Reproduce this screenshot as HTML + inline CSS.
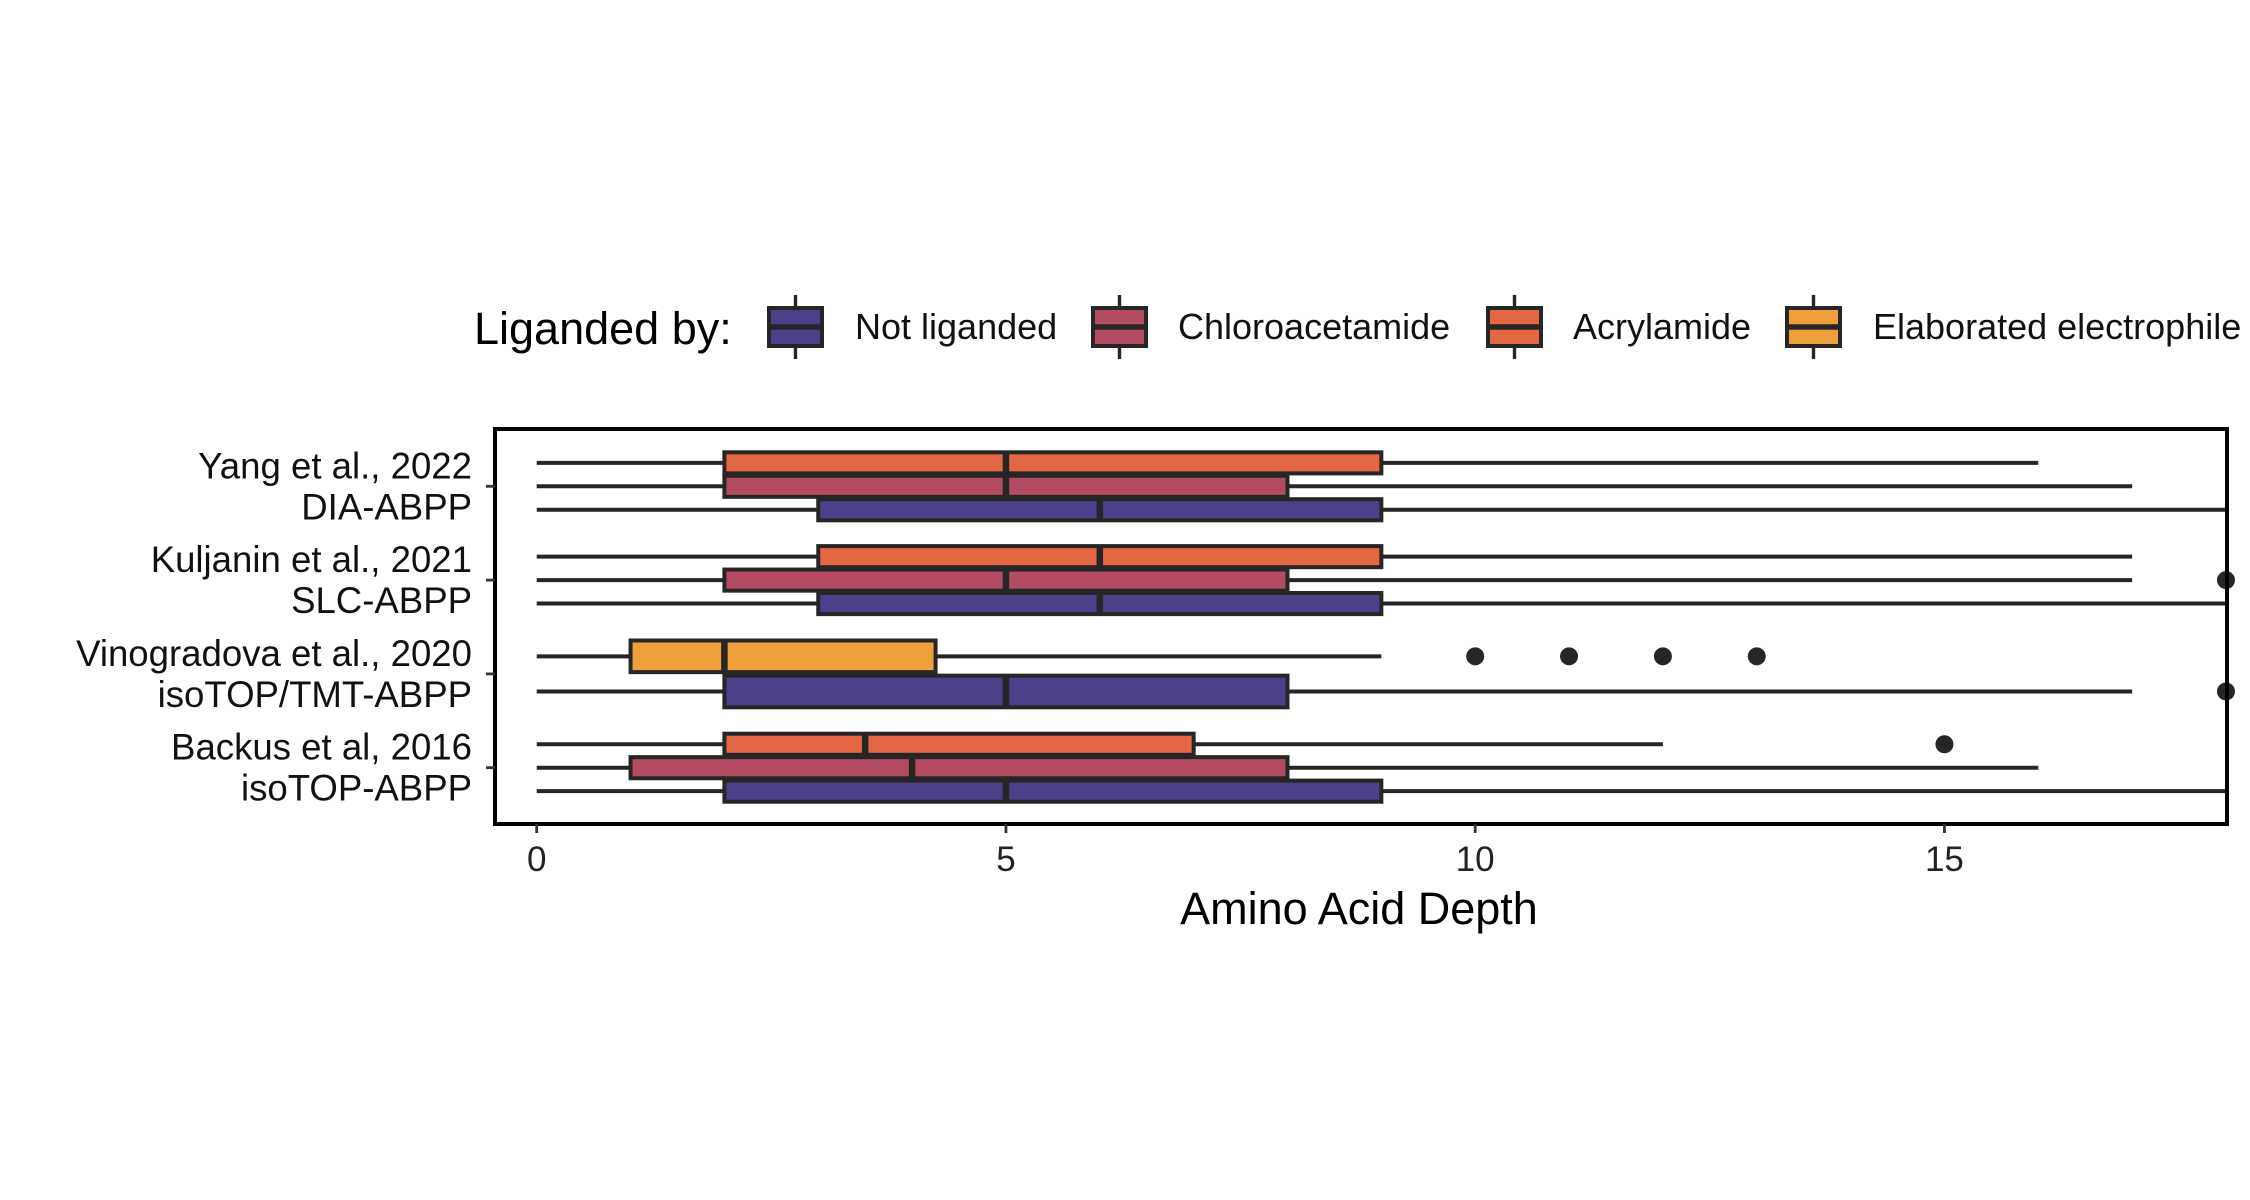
<!DOCTYPE html>
<html><head><meta charset="utf-8"><style>
html,body{margin:0;padding:0;background:#fff;}
svg{display:block;font-family:"Liberation Sans",Arial,sans-serif;}
</style></head><body>
<svg id="chart" width="2250" height="1200" viewBox="0 0 2250 1200" xmlns="http://www.w3.org/2000/svg"></svg>
<script>
const groups = ["Yang et al., 2022|DIA-ABPP","Kuljanin et al., 2021|SLC-ABPP","Vinogradova et al., 2020|isoTOP/TMT-ABPP","Backus et al, 2016|isoTOP-ABPP"];
const groupPos = [4,3,2,1];
const seriesNames = ["Not liganded","Chloroacetamide","Acrylamide","Elaborated electrophile"];
const seriesColors = ["#4e3f8a","#b34b62","#e36743","#eda03a"];
const boxGroup =  [0,0,0, 1,1,1, 2,2, 3,3,3];
const boxSeries = [2,1,0, 2,1,0, 3,0, 2,1,0];
const boxSlot =   [0,1,2, 0,1,2, 0,1, 0,1,2];
const boxSlots =  [3,3,3, 3,3,3, 2,2, 3,3,3];
const whiskLo =   [0,0,0, 0,0,0, 0,0, 0,0,0];
const q1 =        [2,2,3, 3,2,3, 1,2, 2,1,2];
const med =       [5,5,6, 6,5,6, 2,5, 3.5,4,5];
const q3 =        [9,8,9, 9,8,9, 4.25,8, 7,8,9];
const whiskHi =   [16,17,18.5, 17,17,18.5, 9,17, 12,16,18.5];
const outBox =    [4, 6,6,6,6, 7, 8];
const outVal =    [18, 10,11,12,13, 18, 15];
const xTicks = [0,5,10,15];

const PL=495, PR=2227, PT=429, PB=824;
const X0=536.7, XU=93.85;
const xs = v => X0 + v*XU;
const ys = p => 767.7 - (p-1)*93.8;
const NS="http://www.w3.org/2000/svg";
const svg=document.getElementById('chart');
function mk(tag, attrs, parent){const e=document.createElementNS(NS,tag);for(const k in attrs)e.setAttribute(k,attrs[k]);(parent||svg).appendChild(e);return e;}

const defs=mk('defs',{});
const cp=mk('clipPath',{id:'pc'},defs);
mk('rect',{x:PL,y:PT,width:PR-PL,height:PB-PT},cp);
const plot=mk('g',{'clip-path':'url(#pc)'});



function yOf(i){
  const n=boxSlots[i], w=0.75/n;
  const off=(boxSlot[i]-(n-1)/2)*w;
  return {c: ys(groupPos[boxGroup[i]]-off), h: w*0.9*93.8};
}
const SW=4;
for(let i=0;i<q1.length;i++){
  const {c,h}=yOf(i);
  const g=mk('g',{},plot);
  
  
  const wl=mk('line',{x1:xs(whiskLo[i]),x2:xs(q1[i]),y1:c,y2:c,stroke:'#262626','stroke-width':SW},g);
  
  
  const wh=mk('line',{x1:xs(q3[i]),x2:xs(whiskHi[i]),y1:c,y2:c,stroke:'#262626','stroke-width':SW},g);
  
  
  const r=mk('rect',{x:xs(q1[i]),y:c-h/2,width:xs(q3[i])-xs(q1[i]),height:h,fill:seriesColors[boxSeries[i]],stroke:'#262626','stroke-width':SW},g);
  
  
  const m=mk('line',{x1:xs(med[i]),x2:xs(med[i]),y1:c-h/2,y2:c+h/2,stroke:'#262626','stroke-width':6.5},g);
  
  
}
for(let j=0;j<outVal.length;j++){
  const {c}=yOf(outBox[j]);
  const o=mk('circle',{cx:xs(outVal[j]),cy:c,r:9,fill:'#262626'});
  
  
}
const border=mk('rect',{x:PL,y:PT,width:PR-PL,height:PB-PT,fill:'none',stroke:'#000','stroke-width':4});



xTicks.forEach(t=>{
  const tl=mk('line',{x1:xs(t),x2:xs(t),y1:PB,y2:PB+9,stroke:'#333','stroke-width':2.8});
  
  
  const tx=mk('text',{x:xs(t),y:PB+47,'text-anchor':'middle','font-size':35,fill:'#222'});
  tx.textContent=t;
  
  
});
groups.forEach((g,i)=>{
  const c=ys(groupPos[i]);
  const tl=mk('line',{x1:PL-9,x2:PL,y1:c,y2:c,stroke:'#333','stroke-width':2.8});
  
  
  const [a,b]=g.split('|');
  const t=mk('text',{x:472,y:c-8,'text-anchor':'end','font-size':36.6,fill:'#111'});
  t.textContent=a;
  
  
  const t2=mk('text',{x:472,y:c+33,'text-anchor':'end','font-size':36.6,fill:'#111'});
  t2.textContent=b;
  
  
});
const xt=mk('text',{x:1359,y:924,'text-anchor':'middle','font-size':45,fill:'#000'});
xt.textContent='Amino Acid Depth';



const lt=mk('text',{x:474,y:344,'font-size':45,fill:'#000'});
lt.textContent='Liganded by:';


const keyX=[769,1093,1488,1787];
const textX=[855,1178,1573,1873];
seriesNames.forEach((s,i)=>{
  const g=mk('g',{});
  
  
  const kx=keyX[i], kw=53, cy=327;
  mk('line',{x1:kx+kw/2,x2:kx+kw/2,y1:295,y2:359,stroke:'#262626','stroke-width':3.4},g);
  mk('rect',{x:kx,y:308,width:kw,height:38,fill:seriesColors[i],stroke:'#262626','stroke-width':4},g);
  mk('line',{x1:kx,x2:kx+kw,y1:cy,y2:cy,stroke:'#262626','stroke-width':5.5},g);
  const t=mk('text',{x:textX[i],y:339,'font-size':36,fill:'#111'},g);
  t.textContent=s;
});
</script>
</body></html>
